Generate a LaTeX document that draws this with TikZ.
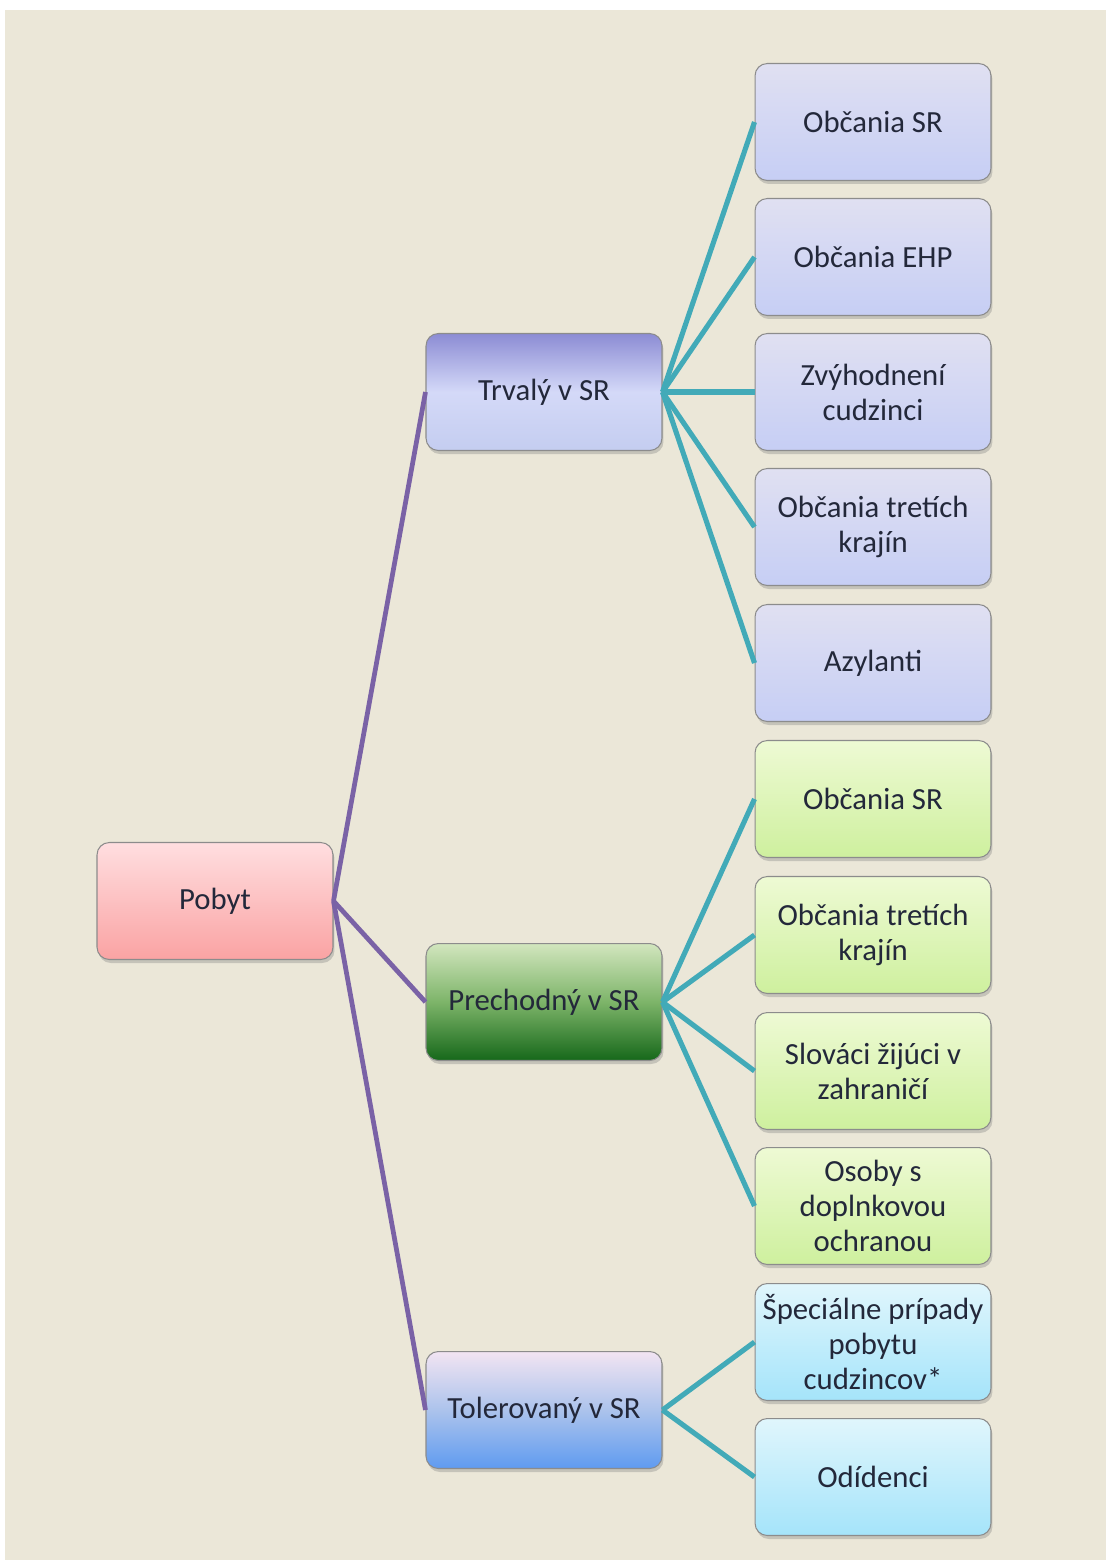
\documentclass[tikz,border=0pt]{standalone}
\usepackage{fontspec}
\setmainfont{Carlito}
\usetikzlibrary{shadows}
\definecolor{bgbeige}{RGB}{235,231,216}
\definecolor{mytext}{RGB}{35,40,58}
\definecolor{mypurple}{RGB}{122,98,166}
\definecolor{myteal}{RGB}{66,170,184}
\definecolor{lavtop}{RGB}{224,224,242}
\definecolor{lavbot}{RGB}{198,206,244}
\definecolor{grntop}{RGB}{238,250,212}
\definecolor{grnbot}{RGB}{206,240,158}
\definecolor{cyntop}{RGB}{224,246,252}
\definecolor{cynbot}{RGB}{165,228,250}

\tikzset{
  box/.style={draw=black!45, line width=0.6pt, rounded corners=7pt,
    minimum width=4.72cm, minimum height=2.34cm, inner sep=1pt,
    align=center, text=mytext, font=\fontsize{17.5}{20}\selectfont,
    drop shadow={opacity=0.35, shadow xshift=0.03cm, shadow yshift=-0.07cm}},
  lavbox/.style={box, top color=lavtop, bottom color=lavbot},
  grnbox/.style={box, top color=grntop, bottom color=grnbot},
  cynbox/.style={box, top color=cyntop, bottom color=cynbot},
  mainline/.style={mypurple, line width=2.7pt},
  subline/.style={myteal, line width=2.9pt}
}

\begin{document}
\begin{tikzpicture}[x=0.02cm, y=-0.02cm]

\useasboundingbox (0,0) rectangle (1106,1560);
\fill[white] (0,0) rectangle (1106,1560);
\fill[bgbeige] (5,10) rectangle (1106,1560);

% root
\node[box, top color={rgb,255:red,255;green,222;blue,224},
  bottom color={rgb,255:red,250;green,163;blue,163}] (pobyt) at (215,901) {Pobyt};

% second level
\node[box, top color={rgb,255:red,140;green,140;blue,212},
  bottom color={rgb,255:red,196;green,205;blue,240},
  middle color={rgb,255:red,212;green,217;blue,248}] (trvaly) at (544,392) {Trvalý v SR};
\node[box, top color={rgb,255:red,210;green,230;blue,190},
  bottom color={rgb,255:red,22;green,104;blue,26},
  middle color={rgb,255:red,125;green,180;blue,105}] (prechodny) at (544,1002) {Prechodný v SR};
\node[box, top color={rgb,255:red,242;green,228;blue,242},
  bottom color={rgb,255:red,95;green,155;blue,240},
  middle color={rgb,255:red,172;green,195;blue,236}] (tolerovany) at (544,1410) {Tolerovaný v SR};

% trvaly children
\node[lavbox] (t1) at (873,122) {Občania SR};
\node[lavbox] (t2) at (873,257) {Občania EHP};
\node[lavbox] (t3) at (873,392) {Zvýhodnení\\cudzinci};
\node[lavbox] (t4) at (873,527) {Občania tretích\\krajín};
\node[lavbox] (t5) at (873,663) {Azylanti};

% prechodny children
\node[grnbox] (p1) at (873,799) {Občania SR};
\node[grnbox] (p2) at (873,935) {Občania tretích\\krajín};
\node[grnbox] (p3) at (873,1071) {Slováci žijúci v\\zahraničí};
\node[grnbox] (p4) at (873,1206) {Osoby s\\doplnkovou\\ochranou};

% tolerovany children
\node[cynbox] (o1) at (873,1342) {Špeciálne prípady\\pobytu\\cudzincov*};
\node[cynbox] (o2) at (873,1477) {Odídenci};

\draw[mainline] (pobyt.east) -- (trvaly.west);
\draw[mainline] (pobyt.east) -- (prechodny.west);
\draw[mainline] (pobyt.east) -- (tolerovany.west);

\draw[subline] (trvaly.east) -- (t1.west);
\draw[subline] (trvaly.east) -- (t2.west);
\draw[subline] (trvaly.east) -- (t3.west);
\draw[subline] (trvaly.east) -- (t4.west);
\draw[subline] (trvaly.east) -- (t5.west);

\draw[subline] (prechodny.east) -- (p1.west);
\draw[subline] (prechodny.east) -- (p2.west);
\draw[subline] (prechodny.east) -- (p3.west);
\draw[subline] (prechodny.east) -- (p4.west);

\draw[subline] (tolerovany.east) -- (o1.west);
\draw[subline] (tolerovany.east) -- (o2.west);

\end{tikzpicture}
\end{document}
